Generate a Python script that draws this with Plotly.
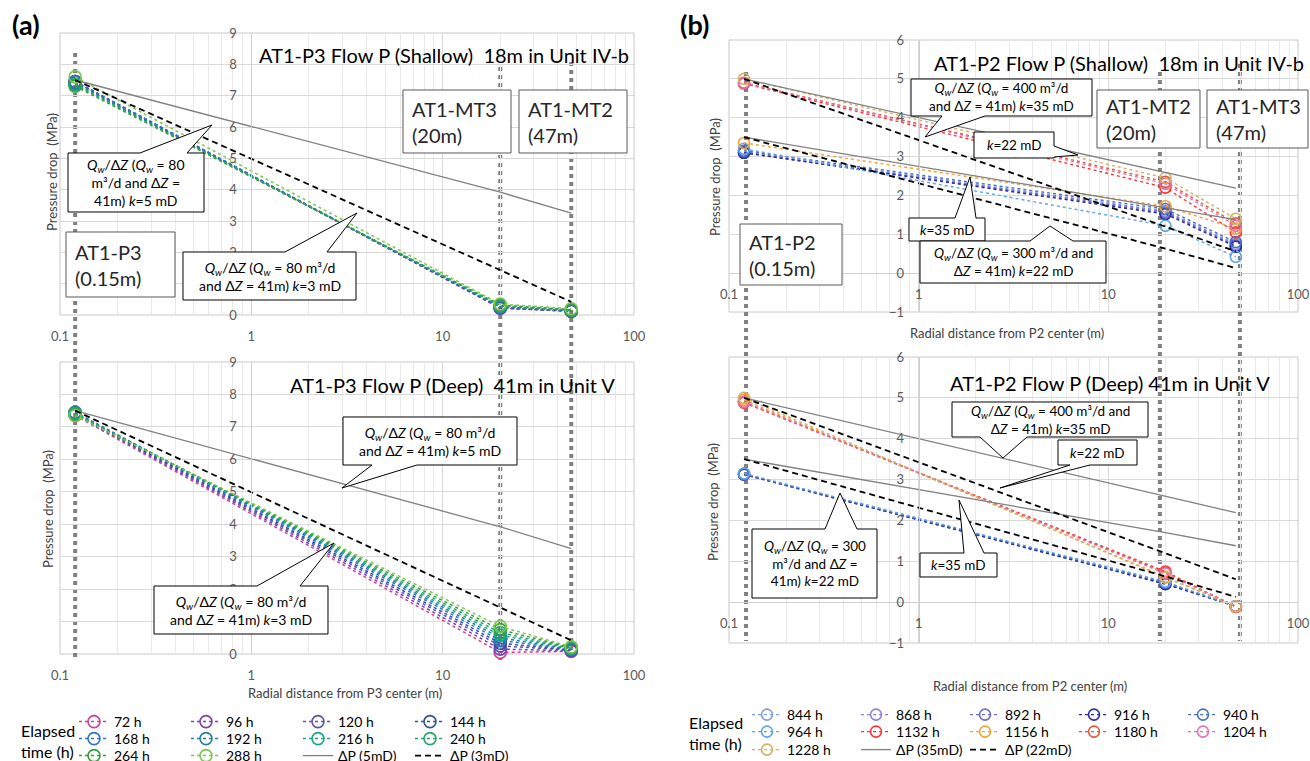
import plotly.graph_objects as go

W, H = 1310, 761
FONT = "Lato"

# ---------------- data ----------------
# (a) AT1-P3 flow test; observation distances (m): P3, MT3, MT2
dist_a = [0.12, 20, 47]
times_a = ["72 h", "96 h", "120 h", "144 h", "168 h", "192 h", "216 h", "240 h", "264 h", "288 h"]
colors_a = ["#d23c9a", "#7b3fb0", "#5a50b8", "#2f4f9f", "#2e75c6",
            "#1f80a0", "#17a58c", "#27a46c", "#35a03a", "#7cc64f"]
p3_shallow = [
    [7.45, 0.22, 0.12], [7.45, 0.22, 0.12], [7.45, 0.23, 0.12], [7.40, 0.24, 0.13],
    [7.45, 0.25, 0.13], [7.40, 0.27, 0.14], [7.35, 0.28, 0.15], [7.35, 0.30, 0.16],
    [7.30, 0.32, 0.17], [7.60, 0.35, 0.20],
]
p3_deep = [
    [7.35, 0.05, 0.08], [7.38, 0.15, 0.10], [7.40, 0.25, 0.12], [7.42, 0.33, 0.13],
    [7.45, 0.42, 0.14], [7.45, 0.50, 0.15], [7.42, 0.58, 0.17], [7.40, 0.66, 0.18],
    [7.38, 0.75, 0.20], [7.35, 0.85, 0.22],
]
dp5_a = [7.5, 3.92, 3.25]     # k = 5 mD
dp3_a = [7.5, 1.43, 0.42]     # k = 3 mD

# (b) AT1-P2 flow test; observation distances (m): P2, MT2, MT3
dist_b = [0.12, 20, 47]
times_b = ["844 h", "868 h", "892 h", "916 h", "940 h", "964 h",
           "1132 h", "1156 h", "1180 h", "1204 h", "1228 h"]
colors_b = ["#7f9fd2", "#8a80d2", "#6b6bd0", "#2b2ba0", "#4a70c2", "#5ba5e2",
            "#ff3333", "#f5a032", "#e05a3a", "#e070b0", "#d4b060"]
p2_shallow = [
    [3.12, 1.60, 0.75], [3.10, 1.58, 0.72], [3.10, 1.55, 0.70], [3.10, 1.52, 0.68],
    [3.15, 1.65, 0.80], [3.20, 1.22, 0.42],
    [4.88, 2.20, 1.05], [3.35, 1.72, 1.15], [4.90, 2.35, 1.28], [4.90, 2.30, 1.22],
    [5.00, 2.45, 1.40],
]
p2_deep = [
    [3.12, 0.47, -0.10], [3.12, 0.46, -0.10], [3.12, 0.45, -0.10], [3.13, 0.44, -0.10],
    [3.14, 0.48, -0.10], [3.15, 0.50, -0.10],
    [4.88, 0.75, -0.12], [4.95, 0.62, -0.10], [4.90, 0.72, -0.10], [4.90, 0.70, -0.10],
    [5.00, 0.60, -0.10],
]
dp35_q400 = [5.0, 2.60, 2.19]
dp22_q400 = [5.0, 1.18, 0.56]
dp35_q300 = [3.5, 1.70, 1.38]
dp22_q300 = [3.5, 0.63, 0.13]

# well positions drawn as guide lines (m)
guide_a = [0.12, 20, 47]
guide_b = [0.123, 18.7, 49.4]

x_ticks = [0.1, 1, 10, 100]

# ---------------- helpers ----------------
def px(x):
    return x / W


def py(y):
    return 1 - y / H


A_X = [px(60), px(634)]
A1_Y = [py(315), py(33)]
A2_Y = [py(654), py(362)]
B_X = [px(729), px(1298)]
B1_Y = [py(312), py(40)]
B2_Y = [py(643), py(357)]


def ypos_at_one(dom):  # paper x of x=1 on a log axis spanning 0.1..100
    return dom[0] + (dom[1] - dom[0]) / 3.0


def xpos_at_zero(dom, lo, hi):
    return dom[0] + (dom[1] - dom[0]) * (0 - lo) / (hi - lo)


GRID = "#d9d9d9"
TICKF = dict(family=FONT, size=13, color="#595959")

fig = go.Figure()

# ---------------- traces (a) ----------------
legs_a = ["legend", "legend2", "legend3"]
for i, t in enumerate(times_a):
    style = dict(mode="lines+markers", name=t,
                 line=dict(color=colors_a[i], width=1.5, dash="dot"),
                 marker=dict(symbol="circle-open", size=12, color=colors_a[i], line=dict(width=1.6)),
                 cliponaxis=False, legend=legs_a[i // 4])
    fig.add_trace(go.Scatter(x=dist_a, y=p3_shallow[i], xaxis="x", yaxis="y", showlegend=True, **style))
    fig.add_trace(go.Scatter(x=dist_a, y=p3_deep[i], xaxis="x2", yaxis="y2", showlegend=False, **style))

for ax, ay, sl in [("x", "y", True), ("x2", "y2", False)]:
    fig.add_trace(go.Scatter(x=dist_a, y=dp5_a, xaxis=ax, yaxis=ay, mode="lines", name="ΔP (5mD)",
                             line=dict(color="#808080", width=1.3), legend="legend3", showlegend=sl))
for ax, ay, sl in [("x", "y", True), ("x2", "y2", False)]:
    fig.add_trace(go.Scatter(x=dist_a, y=dp3_a, xaxis=ax, yaxis=ay, mode="lines", name="ΔP (3mD)",
                             line=dict(color="#000000", width=1.8, dash="6px,4px"),
                             legend="legend3", showlegend=sl))

# ---------------- traces (b) ----------------
legs_b = ["legend4", "legend5", "legend6"]
for i, t in enumerate(times_b):
    style = dict(mode="lines+markers", name=t,
                 line=dict(color=colors_b[i], width=1.4, dash="dot"),
                 marker=dict(symbol="circle-open", size=11, color=colors_b[i], line=dict(width=1.6)),
                 cliponaxis=False, legend=legs_b[i // 5])
    fig.add_trace(go.Scatter(x=dist_b, y=p2_shallow[i], xaxis="x3", yaxis="y3", showlegend=True, **style))
    fig.add_trace(go.Scatter(x=dist_b, y=p2_deep[i], xaxis="x4", yaxis="y4", showlegend=False, **style))

for ax, ay, sl in [("x3", "y3", True), ("x4", "y4", False)]:
    for k, yv in enumerate([dp35_q400, dp35_q300]):
        fig.add_trace(go.Scatter(x=dist_b, y=yv, xaxis=ax, yaxis=ay, mode="lines", name="ΔP (35mD)",
                                 line=dict(color="#808080", width=1.3), legend="legend6",
                                 showlegend=sl and k == 0))
for ax, ay, sl in [("x3", "y3", True), ("x4", "y4", False)]:
    for k, yv in enumerate([dp22_q400, dp22_q300]):
        fig.add_trace(go.Scatter(x=dist_b, y=yv, xaxis=ax, yaxis=ay, mode="lines", name="ΔP (22mD)",
                                 line=dict(color="#000000", width=1.8, dash="6px,4px"), legend="legend6",
                                 showlegend=sl and k == 0))

# ---------------- axes ----------------
def xaxis(dom, **kw):
    d = dict(type="log", range=[-1, 2], domain=dom, tickvals=x_ticks, ticktext=[str(v) for v in x_ticks],
             showgrid=True, gridcolor=GRID, gridwidth=1,
             minor=dict(showgrid=True, gridcolor="#e9e9e9", dtick="D1"),
             ticks="outside", ticklen=9, tickcolor="rgba(0,0,0,0)",
             zeroline=False, tickfont=TICKF, fixedrange=True)
    d.update(kw)
    return d


def yaxis(dom, xdom, rng, **kw):
    d = dict(range=rng, dtick=1, domain=dom, anchor="free", position=ypos_at_one(xdom),
             showgrid=True, gridcolor=GRID, zeroline=False, showline=True, linecolor="#cfcfcf",
             ticks="outside", ticklen=12, tickcolor="rgba(0,0,0,0)", tickfont=TICKF, fixedrange=True)
    d.update(kw)
    return d


fig.update_layout(
    xaxis=xaxis(A_X, anchor="y"),
    yaxis=yaxis(A1_Y, A_X, [0, 9]),
    xaxis2=xaxis(A_X, anchor="y2"),
    yaxis2=yaxis(A2_Y, A_X, [0, 9]),
    xaxis3=xaxis(B_X, anchor="free", position=xpos_at_zero(B1_Y, -1, 6), showline=True, linecolor="#cfcfcf"),
    yaxis3=yaxis(B1_Y, B_X, [-1, 6]),
    xaxis4=xaxis(B_X, anchor="free", position=xpos_at_zero(B2_Y, -1, 6), showline=True, linecolor="#cfcfcf"),
    yaxis4=yaxis(B2_Y, B_X, [-1, 6]),
)

shapes = []
# plot-area frames
for xr, yr in [("x", "y"), ("x2", "y2"), ("x3", "y3"), ("x4", "y4")]:
    shapes.append(dict(type="rect", xref=xr + " domain", yref=yr + " domain", x0=0, x1=1, y0=0, y1=1,
                       line=dict(color="#c8c8c8", width=1), layer="below"))

# well guide lines (dotted grey)
for xv, top in zip(guide_a, [53, 67, 62]):
    shapes.append(dict(type="line", xref="x", yref="paper", x0=xv, x1=xv, y0=py(top), y1=py(660),
                       line=dict(color="#808080", width=4, dash="dot"), layer="below"))
for xv, top in zip(guide_b, [72, 72, 64]):
    shapes.append(dict(type="line", xref="x3", yref="paper", x0=xv, x1=xv, y0=py(top), y1=py(641),
                       line=dict(color="#808080", width=4, dash="dot"), layer="below"))


def box_path(x0, y0, x1, y1, side=None, a=None, b=None, tip=None):
    pts = [(x0, y0)]
    if side == "top":
        pts += [(a, y0), tip, (b, y0)]
    pts.append((x1, y0))
    if side == "right":
        pts += [(x1, a), tip, (x1, b)]
    pts.append((x1, y1))
    if side == "bottom":
        pts += [(b, y1), tip, (a, y1)]
    pts.append((x0, y1))
    return "M " + " L ".join(f"{px(x):.5f},{py(y):.5f}" for x, y in pts) + " Z"


annotations = []

QW = "<i>Q</i><sub><i>w</i></sub>"
DZ = "Δ<i>Z</i>"
callouts = [
    # box x0,y0,x1,y1, wedge side, base a, base b, tip, text, font size
    ((68, 153, 204, 212), "top", 140, 187, (212, 125),
     f"{QW}/{DZ} ({QW} = 80<br>m³/d and {DZ} =<br>41m) <i>k</i>=5 mD", 14),
    ((183, 252, 356, 300), "top", 285, 327, (357, 213),
     f"{QW}/{DZ} ({QW} = 80 m³/d<br>and {DZ} = 41m) <i>k</i>=3 mD", 14),
    ((343, 417, 517, 465), "bottom", 372, 417, (342, 488),
     f"{QW}/{DZ} ({QW} = 80 m³/d<br>and {DZ} = 41m) <i>k</i>=5 mD", 14),
    ((154, 586, 328, 634), "top", 257, 300, (334, 543),
     f"{QW}/{DZ} ({QW} = 80 m³/d<br>and {DZ} = 41m) <i>k</i>=3 mD", 14),
    ((911, 79, 1092, 116), "bottom", 942, 985, (925, 137),
     f"{QW}/{DZ} ({QW} = 400 m³/d<br>and {DZ} = 41m) <i>k</i>=35 mD", 13.5),
    ((974, 132, 1054, 158), "right", 146, 157, (1078, 155), "<i>k</i>=22 mD", 13.5),
    ((909, 218, 985, 241), "top", 955, 976, (970, 177), "<i>k</i>=35 mD", 13.5),
    ((920, 241, 1106, 283), "top", 1030, 1073, (1050, 226),
     f"{QW}/{DZ} ({QW} = 300 m³/d and<br>{DZ} = 41m) <i>k</i>=22 mD", 13.5),
    ((952, 402, 1148, 437), "bottom", 980, 1027, (1003, 458),
     f"{QW}/{DZ} ({QW} = 400 m³/d and<br>{DZ} = 41m) <i>k</i>=35 mD", 13.5),
    ((1058, 440, 1137, 465), "bottom", 1070, 1090, (1000, 488), "<i>k</i>=22 mD", 13.5),
    ((920, 553, 997, 577), "top", 964, 984, (959, 500), "<i>k</i>=35 mD", 13.5),
    ((752, 529, 877, 598), "top", 825, 857, (840, 493),
     f"{QW}/{DZ} ({QW} = 300<br>m³/d and {DZ} =<br>41m) <i>k</i>=22 mD", 13.5),
]
for (x0, y0, x1, y1), side, a, b, tip, text, fs in callouts:
    shapes.append(dict(type="path", xref="paper", yref="paper", path=box_path(x0, y0, x1, y1, side, a, b, tip),
                       fillcolor="white", line=dict(color="#000000", width=1), layer="above"))
    annotations.append(dict(xref="paper", yref="paper", x=px((x0 + x1) / 2), y=py((y0 + y1) / 2),
                            xanchor="center", yanchor="middle", showarrow=False, text=text, align="center",
                            font=dict(family=FONT, size=fs, color="#000000")))

labels = [
    ((66, 232, 175, 297), "AT1-P3<br>(0.15m)"),
    ((403, 90, 511, 153), "AT1-MT3<br>(20m)"),
    ((519, 90, 627, 153), "AT1-MT2<br>(47m)"),
    ((740, 224, 842, 285), "AT1-P2<br>(0.15m)"),
    ((1097, 90, 1200, 148), "AT1-MT2<br>(20m)"),
    ((1207, 90, 1308, 148), "AT1-MT3<br>(47m)"),
]
for (x0, y0, x1, y1), text in labels:
    shapes.append(dict(type="path", xref="paper", yref="paper", path=box_path(x0, y0, x1, y1),
                       fillcolor="white", line=dict(color="#595959", width=1), layer="above"))
    annotations.append(dict(xref="paper", yref="paper", x=px(x0 + 7), y=py((y0 + y1) / 2),
                            xanchor="left", yanchor="middle", showarrow=False, text=text, align="left",
                            font=dict(family=FONT, size=20, color="#262626")))

# subplot titles
for x0, y0, text in [
    (257, 55, "AT1-P3 Flow P (Shallow)\u00a0 18m in Unit IV-b"),
    (288, 385, "AT1-P3 Flow P (Deep)\u00a0 41m in Unit V"),
    (932, 63, "AT1-P2 Flow P (Shallow)\u00a0 18m in Unit IV-b"),
    (948, 383, "AT1-P2 Flow P (Deep) 41m in Unit V"),
]:
    annotations.append(dict(xref="paper", yref="paper", x=px(x0), y=py(y0), xanchor="left", yanchor="middle",
                            showarrow=False, text=text, font=dict(family=FONT, size=20, color="#000000")))

# axis titles
for x0, y0 in [(52, 172), (48, 509), (715, 177), (713, 502)]:
    annotations.append(dict(xref="paper", yref="paper", x=px(x0), y=py(y0), xanchor="center", yanchor="middle",
                            showarrow=False, textangle=-90, text="Pressure drop\u00a0 (MPa)",
                            font=dict(family=FONT, size=13, color="#404040")))
for x0, y0, text in [(345, 693, "Radial distance from P3 center (m)"),
                     (1007, 333, "Radial distance from P2 center (m)"),
                     (1030, 686, "Radial distance from P2 center (m)")]:
    annotations.append(dict(xref="paper", yref="paper", x=px(x0), y=py(y0), xanchor="center", yanchor="middle",
                            showarrow=False, text=text, font=dict(family=FONT, size=13, color="#404040")))

# panel letters
for x0, y0, text in [(26, 24, "(a)"), (694, 25, "(b)")]:
    annotations.append(dict(xref="paper", yref="paper", x=px(x0), y=py(y0), xanchor="center", yanchor="middle",
                            showarrow=False, text=f"<b>{text}</b>",
                            font=dict(family=FONT, size=27, color="#000000")))

# legend captions
for x0, y0 in [(19, 741), (687, 733)]:
    annotations.append(dict(xref="paper", yref="paper", x=px(x0), y=py(y0), xanchor="left", yanchor="middle",
                            showarrow=False, text="Elapsed<br>time (h)", align="left",
                            font=dict(family=FONT, size=16, color="#000000")))


def legend(x0, y0, ew):
    return dict(orientation="h", x=px(x0), y=py(y0), xanchor="left", yanchor="middle",
                xref="paper", yref="paper", entrywidth=ew, entrywidthmode="pixels",
                bgcolor="rgba(0,0,0,0)", borderwidth=0, traceorder="normal",
                font=dict(family=FONT, size=14, color="#000000"), itemwidth=30)


fig.update_layout(
    legend=legend(74, 722, 67),
    legend2=legend(74, 739, 67),
    legend3=legend(74, 756, 67),
    legend4=legend(747, 715, 64),
    legend5=legend(747, 732, 64),
    legend6=legend(747, 750, 64),
)

fig.update_layout(
    width=W, height=H,
    margin=dict(l=0, r=0, t=0, b=0, autoexpand=False),
    paper_bgcolor="white", plot_bgcolor="rgba(0,0,0,0)",
    font=dict(family=FONT, size=13, color="#000000"),
    showlegend=True,
    shapes=shapes,
    annotations=annotations,
    hovermode=False,
)

fig.write_html(
    "out.html",
    config={"displayModeBar": False},
    post_script="document.body.style.margin='0';document.body.style.padding='0';"
                "document.documentElement.style.overflow='hidden';",
)
